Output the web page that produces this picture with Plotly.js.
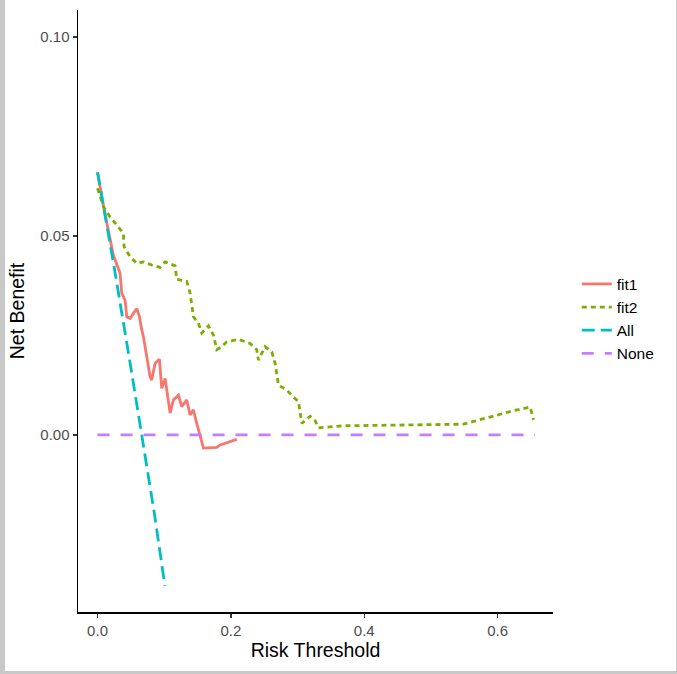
<!DOCTYPE html>
<html>
<head>
<meta charset="utf-8">
<script src="https://cdn.plot.ly/plotly-3.0.1.min.js"></script>
<style>
  html, body { margin: 0; padding: 0; background: #c8c8c8; }
  #wrap { position: absolute; left: 5px; top: 0; width: 671px; height: 671px; background: #fff; }
  #chart { width: 671px; height: 671px; }
</style>
</head>
<body>
<div id="wrap"><div id="chart"></div></div>
<script>
// Risk thresholds and net benefit values
const fit1X = [0.000, 0.010, 0.0237, 0.0338, 0.0363, 0.0413, 0.0438, 0.0488, 0.0588, 0.0628, 0.0663, 0.0688, 0.0713, 0.0763, 0.0788, 0.0813, 0.0863, 0.0928, 0.0963, 0.1013, 0.1048, 0.1088, 0.1138, 0.1213, 0.1263, 0.1338, 0.1388, 0.1438, 0.1488, 0.1513, 0.1538, 0.1588, 0.1788, 0.1838, 0.2088];
const fit1Y = [0.066, 0.0565, 0.0452, 0.0406, 0.0356, 0.0339, 0.0297, 0.0293, 0.0318, 0.0297, 0.0264, 0.0247, 0.0222, 0.0172, 0.0146, 0.0138, 0.0180, 0.0190, 0.0117, 0.0142, 0.0105, 0.0055, 0.0088, 0.0100, 0.0071, 0.0088, 0.0050, 0.0063, 0.0029, 0.0013, -0.0004, -0.0033, -0.0031, -0.0025, -0.0011];

const fit2X = [0.000, 0.0087, 0.0188, 0.0338, 0.0387, 0.0398, 0.0488, 0.0588, 0.0688, 0.0813, 0.0938, 0.1013, 0.1163, 0.1188, 0.1338, 0.1388, 0.1438, 0.1513, 0.1563, 0.1663, 0.1738, 0.1788, 0.1863, 0.1938, 0.2113, 0.2288, 0.2388, 0.2413, 0.2513, 0.2613, 0.2663, 0.2713, 0.2788, 0.2838, 0.2938, 0.3013, 0.3063, 0.3188, 0.3263, 0.3313, 0.3688, 0.4438, 0.4938, 0.5488, 0.5638, 0.5938, 0.6238, 0.6488, 0.6538];
const fit2Y = [0.062, 0.0574, 0.0548, 0.0519, 0.0507, 0.0473, 0.0448, 0.0431, 0.0435, 0.0427, 0.0421, 0.0435, 0.0425, 0.0391, 0.0386, 0.0356, 0.0297, 0.0281, 0.0256, 0.0274, 0.0251, 0.0214, 0.0222, 0.0234, 0.0240, 0.0230, 0.0214, 0.0188, 0.0222, 0.0209, 0.0180, 0.0125, 0.0117, 0.0113, 0.0095, 0.0084, 0.0029, 0.0047, 0.0036, 0.0018, 0.0023, 0.0025, 0.0027, 0.0027, 0.0034, 0.0048, 0.0061, 0.0070, 0.0038];

const allX = [0.000, 0.025, 0.050, 0.070, 0.085, 0.101];
const allY = [0.066, 0.0421, 0.0169, -0.0043, -0.0195, -0.0379];

const noneX = [0.000, 0.656];
const noneY = [0.000, 0.000];

const xTicks = [0.0, 0.2, 0.4, 0.6];
const xTickText = ["0.0", "0.2", "0.4", "0.6"];
const yTicks = [0.00, 0.05, 0.10];
const yTickText = ["0.00", "0.05", "0.10"];

const traces = [
  {x: fit1X, y: fit1Y, name: "fit1", mode: "lines", line: {color: "#F8766D", width: 2.8, dash: "solid"}},
  {x: fit2X, y: fit2Y, name: "fit2", mode: "lines", line: {color: "#7CAE00", width: 2.8, dash: "5px,4px"}},
  {x: allX, y: allY, name: "All", mode: "lines", line: {color: "#00BFC4", width: 2.8, dash: "13px,6px"}},
  {x: noneX, y: noneY, name: "None", mode: "lines", line: {color: "#C77CFF", width: 2.8, dash: "12px,11px"}}
];

const layout = {
  width: 671, height: 671,
  margin: {l: 73, r: 123, t: 10, b: 59},
  paper_bgcolor: "#ffffff",
  plot_bgcolor: "#ffffff",
  font: {family: "Liberation Sans, Arial, sans-serif", color: "#000"},
  showlegend: true,
  legend: {x: 1.05, xanchor: "left", y: 0.487, yanchor: "middle",
           font: {size: 15.5, color: "#000"}, tracegroupgap: 0, itemwidth: 30,
           bgcolor: "rgba(0,0,0,0)"},
  xaxis: {
    range: [-0.0293, 0.683], showgrid: false, zeroline: false,
    showline: true, linecolor: "#000", linewidth: 1.5,
    ticks: "outside", ticklen: 4, tickwidth: 1.2, tickcolor: "#333",
    tickvals: xTicks, ticktext: xTickText,
    tickfont: {size: 15, color: "#4d4d4d"},
    title: {text: "Risk Threshold", font: {size: 19.5, color: "#000"}, standoff: 6},
    automargin: false
  },
  yaxis: {
    range: [-0.0445, 0.1068], showgrid: false, zeroline: false,
    showline: true, linecolor: "#000", linewidth: 1.5,
    ticks: "outside", ticklen: 4, tickwidth: 1.2, tickcolor: "#333",
    tickvals: yTicks, ticktext: yTickText,
    tickfont: {size: 15, color: "#4d4d4d"},
    title: {text: "Net Benefit", font: {size: 19.5, color: "#000"}, standoff: 10},
    automargin: false
  }
};

Plotly.newPlot("chart", traces, layout, {displayModeBar: false, staticPlot: true});
</script>
</body>
</html>
